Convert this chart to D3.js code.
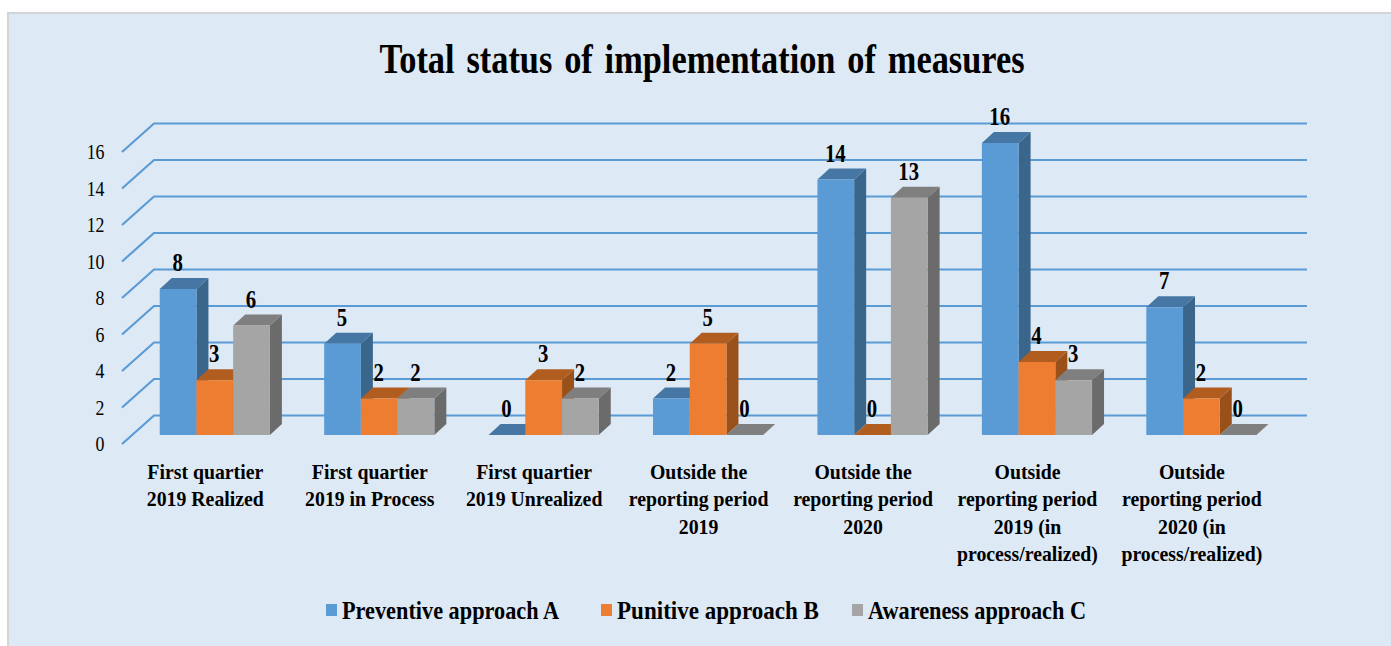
<!DOCTYPE html>
<html><head><meta charset="utf-8">
<script src="https://cdn.jsdelivr.net/npm/d3@7"></script>
<style>html,body{margin:0;padding:0;background:#fff}svg{display:block}text{font-family:"Liberation Serif",serif;fill:#000}</style>
</head><body><svg id="c" width="1391" height="646"></svg>
<script>
const title = "Total status of implementation of measures";
const categories = [
  ["First quartier","2019 Realized"],
  ["First quartier","2019 in Process"],
  ["First quartier","2019 Unrealized"],
  ["Outside the","reporting period","2019"],
  ["Outside the","reporting period","2020"],
  ["Outside","reporting period","2019 (in","process/realized)"],
  ["Outside","reporting period","2020 (in","process/realized)"]
];
const seriesNames = ["Preventive approach A","Punitive approach B","Awareness approach C"];
const preventiveA = [8,5,0,2,14,16,7];
const punitiveB = [3,2,3,5,0,4,2];
const awarenessC = [6,2,2,0,13,3,0];
const seriesValues = [preventiveA,punitiveB,awarenessC];
const tickValues = [0,2,4,6,8,10,12,14,16];
const colors = ["#5b9bd5","#ed7d31","#a5a5a5"];
const topColors = ["#4676a3","#b25d20","#7f7f7f"];
const sideColors = ["#3b668c","#9a5119","#6b6b6b"];

const svg = d3.select("#c");
svg.append("rect").attr("x",8).attr("y",13).attr("width",1400).attr("height",660)
  .attr("fill","#dde9f5").attr("stroke","#d4d4d4").attr("stroke-width",2);

// scales
const yFront = d3.scaleLinear().domain([0,16]).range([435,143]);
const x0 = d3.scaleBand().domain(d3.range(categories.length)).range([132.6,1283.6]).paddingInner(0.33).paddingOuter(0.165);
const x1 = d3.scaleBand().domain(d3.range(3)).range([0,x0.bandwidth()]);
const depthX=12, depthY=11;
const wallX=[122,154,1307], wallDy=-28.5, floorShift=9;

const yWall = v=>yFront(v)+floorShift;
const line = d3.line();
svg.append("g").selectAll("path").data(tickValues).join("path")
  .attr("d",v=>line([[wallX[0],yWall(v)],[wallX[1],yWall(v)+wallDy],[wallX[2],yWall(v)+wallDy]]))
  .attr("fill","none").attr("stroke","#5b9bd5").attr("stroke-width",2.2);

// y axis
const axis = d3.axisLeft(d3.scaleLinear().domain([0,16]).range([yWall(0),yWall(16)]))
  .tickValues(tickValues).tickSize(0).tickPadding(0);
const ax = svg.append("g").attr("transform","translate(104.5,0)").call(axis);
ax.select(".domain").remove();
ax.selectAll("text").style("font-family",'"Liberation Serif",serif').style("font-size","21px").attr("fill","#000").attr("dy","0.32em")
  .each(function(){const p=d3.select(this); p.attr("transform","scale(0.85,1)");});

// bars
const g = svg.append("g");
categories.forEach((c,i)=>{
  seriesValues.forEach((vals,s)=>{
    const v=vals[i], x=x0(i)+x1(s), w=x1.bandwidth(), yt=yFront(v), yb=yFront(0);
    const b=g.append("g");
    b.append("path").attr("fill",sideColors[s])
      .attr("d",line([[x+w,yt],[x+w+depthX,yt-depthY],[x+w+depthX,yb-depthY],[x+w,yb]])+"Z");
    b.append("path").attr("fill",topColors[s])
      .attr("d",line([[x,yt],[x+depthX,yt-depthY],[x+w+depthX,yt-depthY],[x+w,yt]])+"Z");
    if(v>0) b.append("rect").attr("x",x).attr("y",yt).attr("width",w).attr("height",yb-yt).attr("fill",colors[s]);
  });
});
// value labels
categories.forEach((c,i)=>{
  seriesValues.forEach((vals,s)=>{
    svg.append("text").attr("transform",`translate(${x0(i)+x1(s)+x1.bandwidth()/2-0.5},${yFront(vals[i])-18}) scale(0.8,1)`)
      .attr("text-anchor","middle").attr("font-size",26).attr("font-weight","bold").text(vals[i]);
  });
});
// category labels
categories.forEach((c,i)=>{
  const t=svg.append("text").attr("text-anchor","middle").attr("font-size",22).attr("font-weight","bold")
    .attr("transform",`translate(${x0(i)+x0.bandwidth()/2-9.5},0) scale(0.9,1)`);
  c.forEach((l,k)=>t.append("tspan").attr("x",0).attr("y",479+k*27.5).text(l));
});
// title
svg.append("text").attr("x",702).attr("y",73).attr("text-anchor","middle").attr("font-size",42).attr("font-weight","bold")
  .attr("word-spacing",4).attr("textLength",645).attr("lengthAdjust","spacingAndGlyphs").text(title);
// legend
const legX=[325,600,851], legTextW=[217,202,218];
seriesNames.forEach((n,s)=>{
  svg.append("rect").attr("x",legX[s]+1).attr("y",604).attr("width",11).attr("height",12).attr("fill",colors[s]);
  svg.append("text").attr("x",legX[s]+17).attr("y",619).attr("font-size",25).attr("font-weight","bold")
    .attr("textLength",legTextW[s]).attr("lengthAdjust","spacingAndGlyphs").text(n);
});
</script></body></html>
